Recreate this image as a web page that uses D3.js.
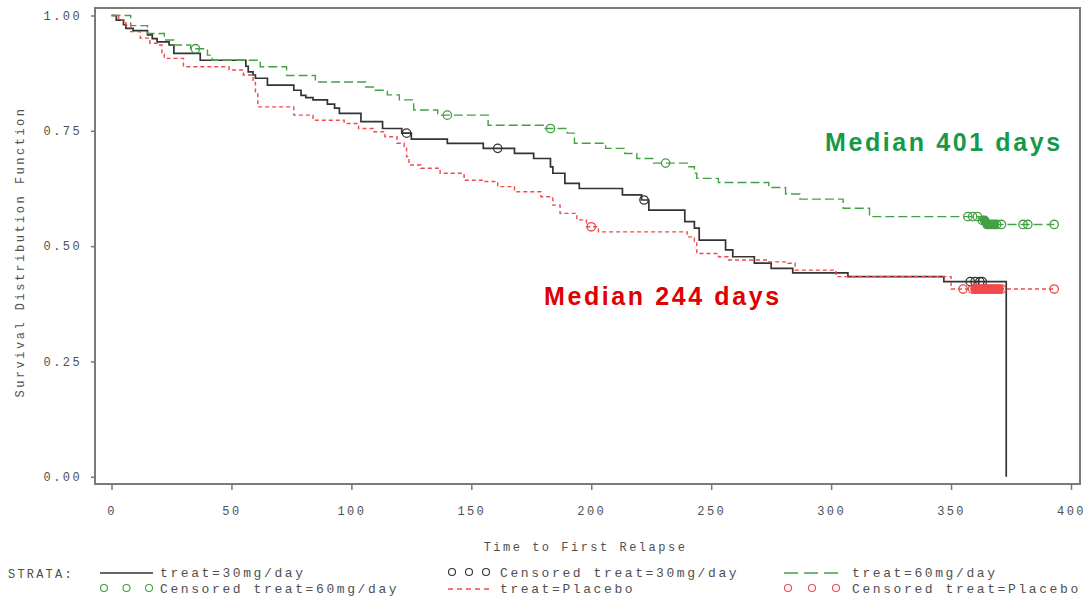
<!DOCTYPE html>
<html>
<head>
<meta charset="utf-8">
<script src="https://cdn.jsdelivr.net/npm/d3@7"></script>
<style>
body { margin: 0; background: #fff; }
svg text { font-family: "Liberation Mono", "DejaVu Sans Mono", monospace; }
</style>
</head>
<body>
<svg id="chart" width="1088" height="601"></svg>
<script>
// step times (days) and survival from that time on, per stratum
const days30 = [0,2,5,6,9,15,17,19,24,26,37,56,57,59,60,65,76,79,81,84,90,93,95,104,113,121,125,140,155,168,176,183,184,189,195,213,221,224,239,243,245,256,259,268,275,284,307,347,373];
const surv30 = [1,0.990,0.980,0.972,0.967,0.958,0.950,0.943,0.936,0.918,0.903,0.890,0.878,0.871,0.864,0.849,0.838,0.827,0.822,0.817,0.808,0.799,0.788,0.770,0.755,0.745,0.732,0.723,0.712,0.701,0.690,0.672,0.658,0.636,0.625,0.611,0.600,0.578,0.553,0.539,0.513,0.492,0.477,0.463,0.452,0.442,0.434,0.423,0];
const cens30 = [123,161,222,358,360,362,363];

const days60 = [0,8,15,22,26,33,40,42,62,73,85,106,110,115,120,126,136,157,180,190,193,206,214,219,226,240,243,244,253,274,281,287,305,316,362,365];
const surv60 = [1,0.978,0.961,0.947,0.936,0.928,0.914,0.903,0.889,0.870,0.856,0.845,0.838,0.828,0.817,0.795,0.784,0.762,0.755,0.745,0.723,0.712,0.701,0.690,0.680,0.672,0.658,0.647,0.638,0.627,0.613,0.602,0.582,0.564,0.556,0.547];
const cens60 = [35,140,183,231,357,359,361,363,364,365,366,367,368,369,371,380,382,393];
const end60 = 393;

const daysPl = [0,3,6,8,12,16,20,21,22,30,49,55,59,60,61,76,84,97,103,109,114,119,122,123,124,129,137,147,155,161,168,179,184,187,194,198,203,240,243,244,253,257,274,282,285,302,350];
const survPl = [1,0.990,0.980,0.965,0.951,0.940,0.936,0.918,0.907,0.889,0.882,0.871,0.855,0.830,0.802,0.784,0.773,0.766,0.755,0.748,0.737,0.723,0.716,0.694,0.676,0.669,0.658,0.643,0.640,0.629,0.618,0.607,0.589,0.571,0.557,0.542,0.531,0.520,0.510,0.484,0.477,0.470,0.466,0.463,0.448,0.434,0.407];
const censPl = [200,355,359,360,361,362,363,364,365,366,367,368,369,370,371,393];
const endPl = 393;

const xTicks = [0,50,100,150,200,250,300,350,400];
const yTicks = [0,0.25,0.5,0.75,1];
const legendLabels = ["treat=30mg/day","Censored treat=30mg/day","treat=60mg/day",
                      "Censored treat=60mg/day","treat=Placebo","Censored treat=Placebo"];
const medianLabels = ["Median 401 days","Median 244 days"];

const frame = { left: 95, top: 8, right: 1080, bottom: 484 };
const svg = d3.select("#chart");

const x = d3.scaleLinear().domain([0, 400]).range([111.5, 1071]);
const y = d3.scaleLinear().domain([0, 1]).range([476.8, 15.5]);

const colors = { c30: "#333333", c60: "#44a044", cPl: "#f04a4a" };

// frame
svg.append("rect")
	.attr("x", frame.left).attr("y", frame.top)
	.attr("width", frame.right - frame.left)
	.attr("height", frame.bottom - frame.top)
	.attr("fill", "none").attr("stroke", "#7a7a7a").attr("stroke-width", 2);

const yAxis = svg.append("g")
	.attr("transform", `translate(${frame.left},0)`)
	.call(d3.axisLeft(y).tickValues(yTicks).tickFormat(d3.format(".2f")).tickSize(4).tickPadding(9));
const xAxis = svg.append("g")
	.attr("transform", `translate(0,${frame.bottom})`)
	.call(d3.axisBottom(x).tickValues(xTicks).tickSize(6).tickPadding(16));

[yAxis, xAxis].forEach(a => {
	a.select(".domain").remove();
	a.selectAll("line").attr("stroke", "#777").attr("stroke-width", 1.5);
	a.selectAll("text").attr("fill", "#505050").style("font-size", "12px")
		.style("letter-spacing", "2.4px").style("font-family", '"Liberation Mono", monospace');
});

svg.append("text")
	.attr("transform", `translate(24,${(frame.top + frame.bottom) / 2 + 6}) rotate(-90)`)
	.attr("text-anchor", "middle").attr("fill", "#505050")
	.style("font-size", "12px").style("letter-spacing", "2.5px")
	.text("Survival Distribution Function");

svg.append("text")
	.attr("x", (frame.left + frame.right) / 2 - 2).attr("y", 551)
	.attr("text-anchor", "middle").attr("fill", "#505050")
	.style("font-size", "12px").style("letter-spacing", "2.5px")
	.text("Time to First Relapse");

// curves
const line = d3.line()
	.x(d => x(d[0]))
	.y(d => y(d[1]))
	.curve(d3.curveStepAfter);

const stepAt = (days, surv, t) => surv[d3.bisectRight(days, t) - 1];

const series = [
	{ days: days30, surv: surv30, cens: cens30, end: null, color: colors.c30, dash: null, width: 1.7 },
	{ days: days60, surv: surv60, cens: cens60, end: end60, color: colors.c60, dash: "9,4", width: 1.4 },
	{ days: daysPl, surv: survPl, cens: censPl, end: endPl, color: colors.cPl, dash: "4,3", width: 1.4 }
];

series.forEach(s => {
	const pts = s.days.map((d, i) => [d, s.surv[i]]);
	if (s.end !== null) pts.push([s.end, s.surv[s.surv.length - 1]]);
	svg.append("path")
		.datum(pts)
		.attr("d", line)
		.attr("fill", "none")
		.attr("stroke", s.color)
		.attr("stroke-width", s.width)
		.attr("stroke-dasharray", s.dash);
	// censored marks packed one day apart on both sides merge into a solid block
	const packed = (d, i) => i > 0 && i < s.cens.length - 1 &&
		d - s.cens[i - 1] <= 1 && s.cens[i + 1] - d <= 1;
	svg.append("g").selectAll("circle")
		.data(s.cens)
		.enter().append("circle")
		.attr("cx", d => x(d))
		.attr("cy", d => y(stepAt(s.days, s.surv, d)))
		.attr("r", 4.2)
		.attr("fill", (d, i) => packed(d, i) ? s.color : "none")
		.attr("stroke", s.color)
		.attr("stroke-width", 1.3);
});

// median annotations
svg.append("text")
	.attr("x", 825).attr("y", 151)
	.attr("fill", "#17994a")
	.style("font-family", '"Liberation Sans", Arial, sans-serif')
	.style("font-weight", "bold").style("font-size", "25px").style("letter-spacing", "2.6px")
	.text(medianLabels[0]);
svg.append("text")
	.attr("x", 544).attr("y", 305)
	.attr("fill", "#e00000")
	.style("font-family", '"Liberation Sans", Arial, sans-serif')
	.style("font-weight", "bold").style("font-size", "25px").style("letter-spacing", "2.6px")
	.text(medianLabels[1]);

// legend
svg.append("text")
	.attr("x", 8).attr("y", 578).attr("fill", "#505050")
	.style("font-size", "12px").style("letter-spacing", "2.2px")
	.text("STRATA:");

const legendKind = ["line", "circle", "line", "circle", "line", "circle"];
const legendSeries = [series[0], series[0], series[1], series[1], series[2], series[2]];
const sampleX = [100, 448, 784];
const sampleW = [53, 42, 56];
const textX = [160, 500, 852];
const rowY = [573, 589];

legendLabels.forEach((lab, i) => {
	const col = i % 3, cy = rowY[Math.floor(i / 3)];
	const cx = sampleX[col];
	const s = legendSeries[i];
	const g = svg.append("g");
	if (legendKind[i] === "line") {
		g.append("line")
			.attr("x1", cx).attr("x2", cx + sampleW[col]).attr("y1", cy).attr("y2", cy)
			.attr("stroke", s.color).attr("stroke-width", s.width)
			.attr("stroke-dasharray", s.dash ? (s === series[1] ? "14,6" : "5,4") : null);
	} else {
		const step = (sampleW[col] - 8) / 2;
		g.selectAll("circle").data([0, 1, 2]).enter().append("circle")
			.attr("cx", d => cx + 4 + d * step).attr("cy", cy - 1).attr("r", 3.5)
			.attr("fill", "none").attr("stroke", s.color).attr("stroke-width", 1.1);
	}
	g.append("text")
		.attr("x", textX[col]).attr("y", cy + 4).attr("fill", "#505050")
		.style("font-size", "13px").style("letter-spacing", "2.6px")
		.text(lab);
});
</script>
</body>
</html>
